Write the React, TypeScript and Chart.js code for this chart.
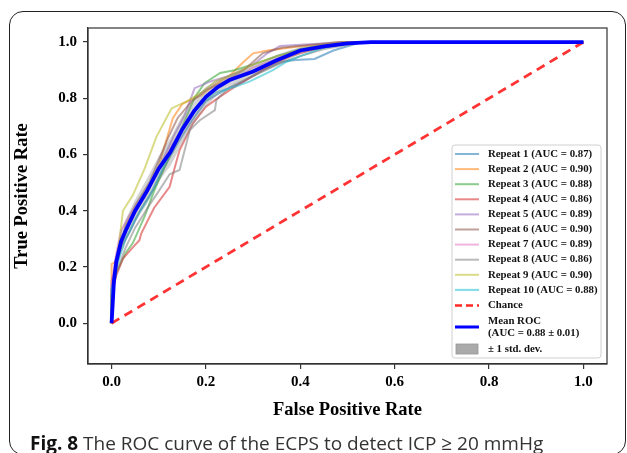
import { useEffect, useRef } from "react";
import { Chart, registerables } from "chart.js";

Chart.register(...registerables);

const X_TICKS = [0, 0.2, 0.4, 0.6, 0.8, 1.0];
const Y_TICKS = [0, 0.2, 0.4, 0.6, 0.8, 1.0];

const REPEAT_AUC = [0.87, 0.9, 0.88, 0.86, 0.89, 0.9, 0.89, 0.86, 0.9, 0.88];
const REPEAT_COLORS = [
  "31,119,180",
  "255,127,14",
  "44,160,44",
  "214,39,40",
  "148,103,189",
  "140,86,75",
  "227,119,194",
  "127,127,127",
  "188,189,34",
  "23,190,207",
];

const REPEAT_1 = [[0, 0], [0, 0.12], [0.01, 0.2], [0.02, 0.27], [0.04, 0.33], [0.06, 0.4], [0.09, 0.48], [0.11, 0.55], [0.14, 0.64], [0.17, 0.72], [0.2, 0.79], [0.24, 0.83], [0.28, 0.86], [0.32, 0.9], [0.36, 0.93], [0.39, 0.936], [0.43, 0.94], [0.47, 0.97], [0.5, 0.985], [0.53, 1], [1, 1]];
const REPEAT_2 = [[0, 0], [0, 0.21], [0.01, 0.22], [0.03, 0.33], [0.05, 0.4], [0.08, 0.485], [0.1, 0.56], [0.13, 0.73], [0.15, 0.78], [0.19, 0.81], [0.22, 0.85], [0.25, 0.88], [0.28, 0.93], [0.3, 0.96], [0.33, 0.97], [0.4, 0.985], [0.45, 0.99], [0.5, 1], [1, 1]];
const REPEAT_3 = [[0, 0], [0, 0.1], [0.01, 0.18], [0.03, 0.25], [0.045, 0.285], [0.07, 0.38], [0.09, 0.47], [0.11, 0.545], [0.13, 0.62], [0.15, 0.7], [0.175, 0.8], [0.197, 0.854], [0.23, 0.89], [0.26, 0.9], [0.3, 0.92], [0.35, 0.95], [0.4, 0.975], [0.45, 0.99], [0.5, 1], [1, 1]];
const REPEAT_4 = [[0, 0], [0, 0.1], [0.01, 0.17], [0.024, 0.23], [0.045, 0.27], [0.059, 0.295], [0.063, 0.32], [0.09, 0.41], [0.123, 0.485], [0.13, 0.53], [0.144, 0.615], [0.172, 0.71], [0.2, 0.77], [0.229, 0.805], [0.26, 0.84], [0.3, 0.88], [0.34, 0.92], [0.38, 0.95], [0.42, 0.97], [0.46, 0.985], [0.5, 0.995], [0.55, 1], [1, 1]];
const REPEAT_5 = [[0, 0], [0, 0.13], [0.01, 0.2], [0.02, 0.3], [0.04, 0.37], [0.07, 0.45], [0.1, 0.55], [0.13, 0.66], [0.155, 0.74], [0.176, 0.836], [0.21, 0.86], [0.25, 0.88], [0.3, 0.92], [0.33, 0.96], [0.357, 0.986], [0.4, 0.99], [0.45, 0.995], [0.5, 1], [1, 1]];
const REPEAT_6 = [[0, 0], [0, 0.15], [0.015, 0.24], [0.03, 0.35], [0.05, 0.42], [0.08, 0.5], [0.1, 0.58], [0.12, 0.66], [0.14, 0.73], [0.17, 0.79], [0.2, 0.83], [0.24, 0.86], [0.28, 0.9], [0.32, 0.96], [0.36, 0.98], [0.42, 0.99], [0.48, 1], [1, 1]];
const REPEAT_7 = [[0, 0], [0, 0.14], [0.01, 0.25], [0.02, 0.33], [0.04, 0.39], [0.07, 0.46], [0.1, 0.55], [0.13, 0.64], [0.16, 0.72], [0.19, 0.79], [0.22, 0.84], [0.26, 0.87], [0.3, 0.91], [0.35, 0.94], [0.4, 0.97], [0.45, 0.985], [0.5, 1], [1, 1]];
const REPEAT_8 = [[0, 0], [0, 0.1], [0.01, 0.18], [0.03, 0.27], [0.05, 0.34], [0.08, 0.42], [0.1, 0.47], [0.123, 0.53], [0.144, 0.545], [0.166, 0.687], [0.187, 0.722], [0.219, 0.758], [0.222, 0.794], [0.25, 0.84], [0.3, 0.88], [0.35, 0.92], [0.4, 0.95], [0.45, 0.975], [0.5, 0.99], [0.53, 1], [1, 1]];
const REPEAT_9 = [[0, 0], [0, 0.1], [0.01, 0.2], [0.024, 0.4], [0.045, 0.455], [0.07, 0.55], [0.095, 0.663], [0.127, 0.764], [0.158, 0.788], [0.19, 0.82], [0.22, 0.86], [0.25, 0.88], [0.3, 0.92], [0.35, 0.95], [0.4, 0.97], [0.45, 0.99], [0.5, 1], [1, 1]];
const REPEAT_10 = [[0, 0], [0, 0.12], [0.01, 0.2], [0.03, 0.3], [0.05, 0.37], [0.08, 0.45], [0.1, 0.52], [0.13, 0.63], [0.16, 0.72], [0.19, 0.78], [0.22, 0.82], [0.26, 0.84], [0.293, 0.86], [0.342, 0.9], [0.371, 0.93], [0.4, 0.95], [0.45, 0.98], [0.5, 0.995], [0.54, 1], [1, 1]];
const REPEATS = [REPEAT_1, REPEAT_2, REPEAT_3, REPEAT_4, REPEAT_5, REPEAT_6, REPEAT_7, REPEAT_8, REPEAT_9, REPEAT_10];

const MEAN_FPR = [0, 0.005, 0.01, 0.02, 0.03, 0.05, 0.075, 0.1, 0.125, 0.15, 0.175, 0.2, 0.225, 0.25, 0.3, 0.35, 0.4, 0.45, 0.5, 0.55, 1];
const MEAN_TPR = [0, 0.15, 0.22, 0.29, 0.33, 0.4, 0.47, 0.55, 0.61, 0.69, 0.755, 0.805, 0.84, 0.865, 0.895, 0.935, 0.97, 0.985, 0.995, 1, 1];
const STD_TPR = [0, 0.04, 0.035, 0.04, 0.04, 0.04, 0.045, 0.045, 0.05, 0.05, 0.045, 0.035, 0.025, 0.02, 0.02, 0.02, 0.012, 0.008, 0.005, 0, 0];
const MEAN_AUC = 0.88;
const STD_AUC = 0.01;
const CHANCE = [[0, 0], [1, 1]];

const SERIF = "'Liberation Serif', 'DejaVu Serif', serif";

const toPts = (arr: number[][]) => arr.map(([x, y]) => ({ x, y }));

const framePlugin = {
  id: "frameAndLegend",
  afterDraw(chart: any) {
    const { ctx, chartArea } = chart;
    ctx.save();
    ctx.strokeStyle = "#333";
    ctx.lineWidth = 1.2;
    ctx.strokeRect(chartArea.left, chartArea.top, chartArea.right - chartArea.left, chartArea.bottom - chartArea.top);

    // legend
    const w = 149;
    const h = 213;
    const x0 = chartArea.right - 6 - w;
    const y0 = chartArea.bottom - 6 - h;
    ctx.beginPath();
    const r = 3;
    ctx.moveTo(x0 + r, y0);
    ctx.arcTo(x0 + w, y0, x0 + w, y0 + h, r);
    ctx.arcTo(x0 + w, y0 + h, x0, y0 + h, r);
    ctx.arcTo(x0, y0 + h, x0, y0, r);
    ctx.arcTo(x0, y0, x0 + w, y0, r);
    ctx.closePath();
    ctx.fillStyle = "rgba(255,255,255,0.85)";
    ctx.fill();
    ctx.strokeStyle = "#d0d0d0";
    ctx.lineWidth = 1;
    ctx.stroke();

    const hx0 = x0 + 3;
    const hx1 = x0 + 27;
    const tx = x0 + 36;
    ctx.font = `bold 10.8px ${SERIF}`;
    ctx.textBaseline = "middle";
    ctx.fillStyle = "#111";
    const rowH = 15.1;
    let y = y0 + 9;
    REPEAT_AUC.forEach((auc, i) => {
      ctx.strokeStyle = `rgba(${REPEAT_COLORS[i]},0.55)`;
      ctx.lineWidth = 2;
      ctx.setLineDash([]);
      ctx.beginPath();
      ctx.moveTo(hx0, y);
      ctx.lineTo(hx1, y);
      ctx.stroke();
      ctx.fillText(`Repeat ${i + 1} (AUC = ${auc.toFixed(2)})`, tx, y);
      y += rowH;
    });
    y += 0.5;
    ctx.strokeStyle = "rgba(255,0,0,0.85)";
    ctx.lineWidth = 2.5;
    ctx.setLineDash([7, 4]);
    ctx.beginPath();
    ctx.moveTo(hx0, y);
    ctx.lineTo(hx1, y);
    ctx.stroke();
    ctx.setLineDash([]);
    ctx.fillText("Chance", tx, y);
    y += 21.5;
    ctx.strokeStyle = "rgb(0,0,255)";
    ctx.lineWidth = 3;
    ctx.beginPath();
    ctx.moveTo(hx0, y);
    ctx.lineTo(hx1, y);
    ctx.stroke();
    ctx.fillText("Mean ROC", tx, y - 6);
    ctx.fillText(`(AUC = ${MEAN_AUC.toFixed(2)} \u00b1 ${STD_AUC.toFixed(2)})`, tx, y + 6);
    y += 22;
    ctx.fillStyle = "rgb(170,170,170)";
    ctx.fillRect(hx0 + 1, y - 5, hx1 - hx0 - 2, 10);
    ctx.strokeStyle = "rgb(150,150,150)";
    ctx.lineWidth = 0.8;
    ctx.strokeRect(hx0 + 1, y - 5, hx1 - hx0 - 2, 10);
    ctx.fillStyle = "#111";
    ctx.fillText("\u00b1 1 std. dev.", tx, y);
    ctx.restore();
  },
};

export default function App() {
  const ref = useRef<HTMLCanvasElement | null>(null);

  useEffect(() => {
    if (!ref.current) return;
    const upper = MEAN_FPR.map((x, i) => ({ x, y: Math.min(MEAN_TPR[i] + STD_TPR[i], 1) }));
    const lower = MEAN_FPR.map((x, i) => ({ x, y: Math.max(MEAN_TPR[i] - STD_TPR[i], 0) }));
    const mean = MEAN_FPR.map((x, i) => ({ x, y: MEAN_TPR[i] }));

    const datasets: any[] = REPEATS.map((r, i) => ({
      label: `Repeat ${i + 1} (AUC = ${REPEAT_AUC[i].toFixed(2)})`,
      data: toPts(r),
      borderColor: `rgba(${REPEAT_COLORS[i]},0.55)`,
      borderWidth: 2,
      pointRadius: 0,
      fill: false,
      tension: 0,
      order: 20 - i,
    }));
    datasets.push({
      label: "Chance",
      data: toPts(CHANCE),
      borderColor: "rgba(255,0,0,0.8)",
      borderWidth: 2.8,
      borderDash: [9, 6],
      pointRadius: 0,
      fill: false,
      order: 5,
    });
    datasets.push({
      label: "upper",
      data: upper,
      borderWidth: 0,
      borderColor: "rgba(0,0,0,0)",
      backgroundColor: "rgba(128,128,128,0.35)",
      pointRadius: 0,
      fill: "+1",
      order: 3,
    });
    datasets.push({
      label: "lower",
      data: lower,
      borderWidth: 0,
      borderColor: "rgba(0,0,0,0)",
      pointRadius: 0,
      fill: false,
      order: 3,
    });
    datasets.push({
      label: "Mean ROC",
      data: mean,
      borderColor: "rgb(0,0,255)",
      borderWidth: 3.8,
      pointRadius: 0,
      fill: false,
      order: 1,
    });

    const tickCommon = {
      color: "#000",
      font: { family: SERIF, size: 15, weight: "bold" as const },
      callback: (v: any) => Number(v).toFixed(1),
    };

    const chart = new Chart(ref.current, {
      type: "line",
      data: { datasets },
      options: {
        animation: false,
        responsive: false,
        parsing: false as any,
        normalized: true,
        layout: { padding: { left: 0, right: 20, top: 28, bottom: 0 } },
        plugins: { legend: { display: false }, tooltip: { enabled: false } },
        scales: {
          x: {
            type: "linear",
            min: -0.05,
            max: 1.05,
            afterBuildTicks: (s: any) => {
              s.ticks = X_TICKS.map((v) => ({ value: v }));
            },
            afterFit: (s: any) => {
              s.height = 89;
            },
            ticks: { ...tickCommon, padding: 4, maxRotation: 0 },
            grid: { drawOnChartArea: false, drawTicks: true, tickLength: 5, color: "#333", lineWidth: 1.2 },
            border: { display: true, color: "#333", width: 1.2 },
            title: {
              display: true,
              text: "False Positive Rate",
              color: "#000",
              font: { family: SERIF, size: 18.5, weight: "bold" },
              padding: { top: 0, bottom: 32 },
            },
          },
          y: {
            type: "linear",
            min: -0.145,
            max: 1.05,
            afterBuildTicks: (s: any) => {
              s.ticks = Y_TICKS.map((v) => ({ value: v }));
            },
            afterFit: (s: any) => {
              s.width = 88;
            },
            ticks: { ...tickCommon, padding: 6 },
            grid: { drawOnChartArea: false, drawTicks: true, tickLength: 5, color: "#333", lineWidth: 1.2 },
            border: { display: true, color: "#333", width: 1.2 },
            title: {
              display: true,
              text: "True Positive Rate",
              color: "#000",
              font: { family: SERIF, size: 18.5, weight: "bold" },
              padding: { top: 11, bottom: 0 },
            },
          },
        },
      },
      plugins: [framePlugin],
    });
    return () => chart.destroy();
  }, []);

  return (
    <div style={{ position: "fixed", left: 0, top: 0, width: 627, height: 453, overflow: "hidden", background: "#fff" }}>
      <div
        style={{
          position: "absolute",
          left: 9,
          top: 11,
          width: 617,
          height: 444,
          boxSizing: "border-box",
          border: "1.5px solid #222",
          borderRadius: 14,
        }}
      />
      <canvas ref={ref} width={627} height={453} style={{ position: "absolute", left: 0, top: 0 }} />
      <div
        style={{
          position: "absolute",
          left: 30,
          top: 431,
          fontFamily: "'Open Sans', 'Noto Sans', sans-serif",
          fontSize: 19,
          lineHeight: "24px",
          color: "#333",
          whiteSpace: "nowrap",
        }}
      >
        <b style={{ color: "#111" }}>Fig. 8</b> The ROC curve of the ECPS to detect ICP ≥ 20 mmHg
      </div>
    </div>
  );
}
